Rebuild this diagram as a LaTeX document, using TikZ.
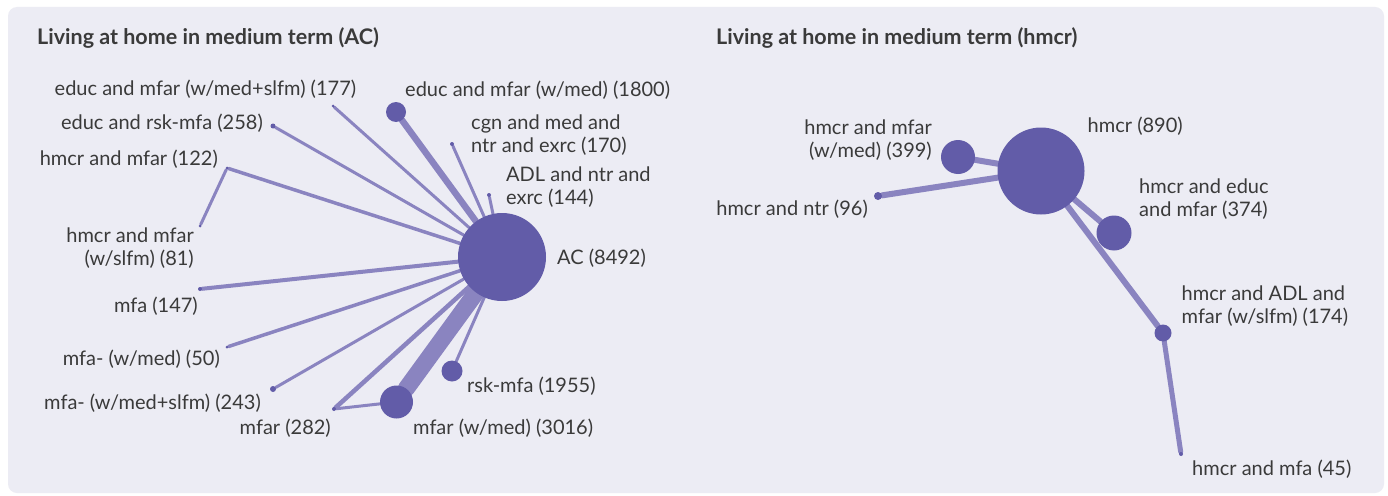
\documentclass[tikz,border=0pt]{standalone}
\usepackage{fontspec}
\setmainfont{Lato}
\usetikzlibrary{backgrounds}
\definecolor{bgc}{HTML}{ECECF4}
\definecolor{nodec}{HTML}{625CA8}
\definecolor{edgec}{HTML}{8A84C0}
\definecolor{txtc}{HTML}{3A3A3A}
\tikzset{
  gnode/.style={circle, fill=nodec, draw=none, inner sep=0pt, minimum size=#1},
  edge/.style={draw=edgec, line width=#1, line cap=round},
  lbl/.style={text=txtc, font=\fontsize{20}{23}\selectfont, inner sep=0pt},
  ttl/.style={text=txtc, font=\fontsize{21.5}{24}\selectfont\bfseries, inner sep=0pt, anchor=west},
}
\begin{document}
\begin{tikzpicture}[x=1pt,y=-1pt]
\useasboundingbox (0,0) rectangle (1388,495);
\begin{scope}[on background layer]
\fill[white] (0,0) rectangle (1388,495);
\fill[bgc, rounded corners=9pt] (8,7) rectangle (1384,493);
\end{scope}

% ---------- left graph ----------
\node[ttl] (t1) at (37,38) {Living at home in medium term (AC)};

\node[gnode=88pt] (AC) at (502,257) {};
\node[gnode=20pt] (n1800) at (396,112) {};
\node[gnode=4pt] (n170) at (452,144) {};
\node[gnode=4pt] (n144) at (489,195) {};
\node[gnode=3pt] (n177) at (333,106) {};
\node[gnode=5pt] (n258) at (273,126) {};
\node[gnode=3pt] (n122) at (227,168) {};
\node[gnode=3pt] (n81) at (200,226) {};
\node[gnode=4pt] (n147) at (200,289) {};
\node[gnode=3pt] (n50) at (227,347) {};
\node[gnode=6pt] (n243) at (273,389) {};
\node[gnode=4pt] (n282) at (334,409) {};
\node[gnode=33pt] (n3016) at (396.5,402) {};
\node[gnode=21pt] (n1955) at (452,371) {};

\begin{scope}[on background layer]
\draw[edge=6.5pt] (AC) -- (n1800);
\draw[edge=3pt] (AC) -- (n170);
\draw[edge=3pt] (AC) -- (n144);
\draw[edge=3pt] (AC) -- (n177);
\draw[edge=3pt] (AC) -- (n258);
\draw[edge=3.5pt] (AC) -- (n122);
\draw[edge=3pt] (n122) -- (n81);
\draw[edge=4pt] (AC) -- (n147);
\draw[edge=3.5pt] (AC) -- (n50);
\draw[edge=3pt] (AC) -- (n243);
\draw[edge=4.5pt] (AC) -- (n282);
\draw[edge=3pt] (n282) -- (n3016);
\draw[edge=17pt] (AC) -- (n3016);
\draw[edge=3pt] (AC) -- (n1955);
\end{scope}

\node[lbl, anchor=west] (l1800) at (405,90) {educ and mfar (w/med) (1800)};
\node[lbl, anchor=west, align=left] (l170) at (471,135.5) {cgn and med and\\ntr and exrc (170)};
\node[lbl, anchor=west, align=left] (l144) at (506,187.5) {ADL and ntr and\\exrc (144)};
\node[lbl, anchor=west] (lAC) at (557,258) {AC (8492)};
\node[lbl, anchor=west] (l177) at (54.5,89) {educ and mfar (w/med+slfm) (177)};
\node[lbl, anchor=east] (l258) at (263,123) {educ and rsk-mfa (258)};
\node[lbl, anchor=east] (l122) at (218,159) {hmcr and mfar (122)};
\node[lbl, anchor=east, align=right] (l81) at (194,248.5) {hmcr and mfar\\(w/slfm) (81)};
\node[lbl, anchor=east] (l147) at (198,306) {mfa (147)};
\node[lbl, anchor=east] (l50) at (220,359) {mfa- (w/med) (50)};
\node[lbl, anchor=east] (l243) at (261,403) {mfa- (w/med+slfm) (243)};
\node[lbl, anchor=east] (l282) at (331,428) {mfar (282)};
\node[lbl, anchor=west] (l3016) at (413,428) {mfar (w/med) (3016)};
\node[lbl, anchor=west] (l1955) at (467,386) {rsk-mfa (1955)};

% ---------- right graph ----------
\node[ttl] (t2) at (716,38) {Living at home in medium term (hmcr)};

\node[gnode=87pt] (H) at (1041,171) {};
\node[gnode=34pt] (h399) at (958,157) {};
\node[gnode=8pt] (h96) at (878,196) {};
\node[gnode=35pt] (h374) at (1114,233) {};
\node[gnode=17pt] (h174) at (1163,333) {};
\node[gnode=4pt] (h45) at (1181,454) {};

\begin{scope}[on background layer]
\draw[edge=6pt] (H) -- (h399);
\draw[edge=6pt] (H) -- (h96);
\draw[edge=6pt] (H) -- (h374);
\draw[edge=6pt] (H) -- (h174);
\draw[edge=5pt] (h174) -- (h45);
\end{scope}

\node[lbl, anchor=west] (lH) at (1087.5,126) {hmcr (890)};
\node[lbl, anchor=east, align=right] (l399) at (932,140) {hmcr and mfar\\(w/med) (399)};
\node[lbl, anchor=east] (l96) at (868,209) {hmcr and ntr (96)};
\node[lbl, anchor=west, align=left] (l374) at (1139,199.5) {hmcr and educ\\and mfar (374)};
\node[lbl, anchor=west, align=left] (l174) at (1181.5,306.5) {hmcr and ADL and\\mfar (w/slfm) (174)};
\node[lbl, anchor=west] (l45) at (1192,469) {hmcr and mfa (45)};
\end{tikzpicture}
\end{document}
